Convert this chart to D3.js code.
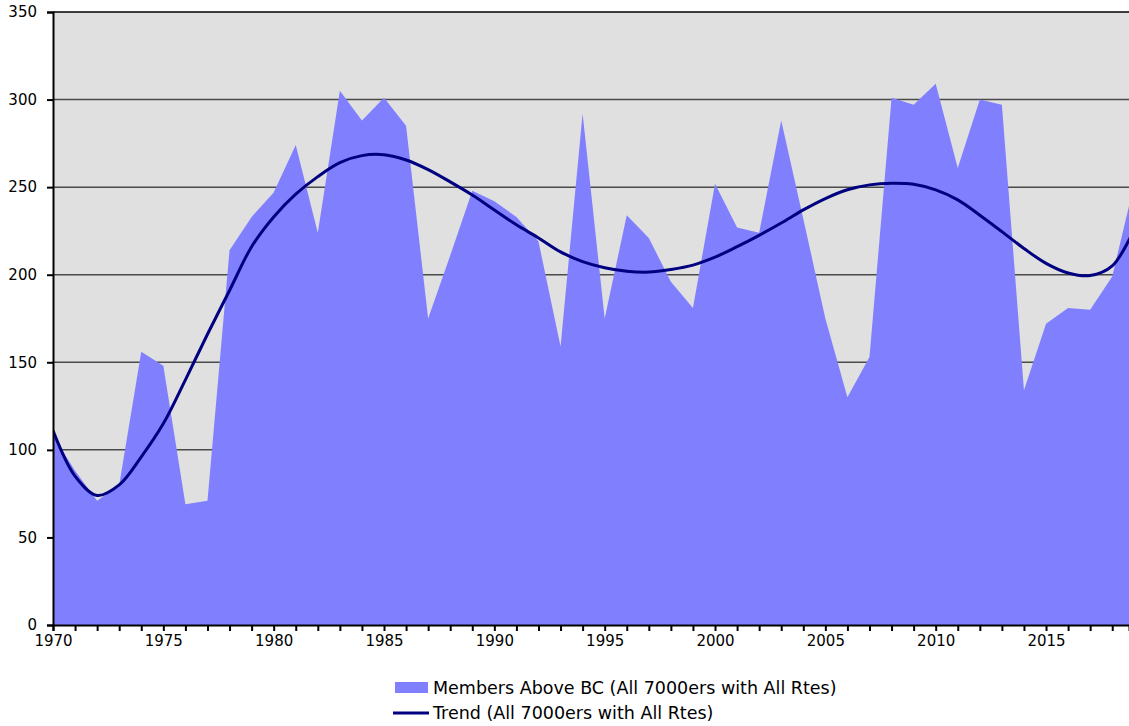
<!DOCTYPE html>
<html>
<head>
<meta charset="utf-8">
<script src="https://cdn.jsdelivr.net/npm/d3@7"></script>
<style>
  html, body { margin: 0; padding: 0; background: #ffffff; }
  svg { display: block; font-family: "DejaVu Sans", Verdana, sans-serif; }
</style>
</head>
<body>
<svg id="chart" width="1129" height="726"></svg>
<script>
// ---- data ----
const years = [1970,1971,1972,1973,1974,1975,1976,1977,1978,1979,
               1980,1981,1982,1983,1984,1985,1986,1987,1988,1989,
               1990,1991,1992,1993,1994,1995,1996,1997,1998,1999,
               2000,2001,2002,2003,2004,2005,2006,2007,2008,2009,
               2010,2011,2012,2013,2014,2015,2016,2017,2018,2019];
const members = [108,88,71,80,156,148,69,71,214,233,
                 247,274,224,305,288,301,285,175,211,248,
                 242,233,219,159,292,175,234,221,196,181,
                 252,227,224,288,232,175,130,153,301,297,
                 309,261,300,297,134,172,181,180,199,252];
const trend = [111,85,74,80,96,115,140,166,191,216,
               233,246,256,264,268,268.5,265.5,260,253,245.5,
               237,228.5,221,213,207.5,204,202,201.5,203,205.5,
               210,216,222.5,229.5,237,243.5,248.5,251.3,252.2,251.6,
               248.4,242.7,234,224.6,215,206.5,201,199.5,205,226];
const yTicks = [0,50,100,150,200,250,300,350];
const xLabelYears = [1970,1975,1980,1985,1990,1995,2000,2005,2010,2015];
const seriesNames = ["Members Above BC (All 7000ers with All Rtes)", "Trend (All 7000ers with All Rtes)"];

// ---- layout ----
const svg = d3.select("#chart");
const pL = 53, pR = 1129, pT = 12, pB = 625;

const x = d3.scaleLinear().domain([1970, 2018.76]).range([pL, pR]);
const y = d3.scaleLinear().domain([0, 350]).range([pB, pT]);

svg.append("defs").append("clipPath").attr("id", "plotclip")
  .append("rect").attr("x", pL).attr("y", pT).attr("width", pR - pL).attr("height", pB - pT);

// plot background
svg.append("rect").attr("x", pL).attr("y", pT).attr("width", pR - pL).attr("height", pB - pT)
  .attr("fill", "#e0e0e0");

// gridlines
svg.append("g").selectAll("line").data(yTicks.filter(v => v > 0 && v < 350)).join("line")
  .attr("x1", pL).attr("x2", pR)
  .attr("y1", d => y(d)).attr("y2", d => y(d))
  .attr("stroke", "#4a4a4a").attr("stroke-width", 1.5);

const plot = svg.append("g").attr("clip-path", "url(#plotclip)");

// area
const area = d3.area().x((d, i) => x(years[i])).y0(y(0)).y1(d => y(d));
plot.append("path").datum(members).attr("d", area).attr("fill", "#8080ff");

// trend line
const line = d3.line().x((d, i) => x(years[i])).y(d => y(d)).curve(d3.curveCatmullRom.alpha(0.5));
plot.append("path").datum(trend).attr("d", line)
  .attr("fill", "none").attr("stroke", "#000080").attr("stroke-width", 3);

// top border
svg.append("line").attr("x1", pL).attr("x2", pR).attr("y1", pT).attr("y2", pT)
  .attr("stroke", "#000").attr("stroke-width", 1.5);

// y axis
const yAxis = d3.axisLeft(y).tickValues(yTicks).tickSize(6).tickPadding(10).tickFormat(d3.format("d"));
const gy = svg.append("g").attr("transform", `translate(${pL},0)`).call(yAxis);
gy.select(".domain").attr("stroke", "#000").attr("stroke-width", 2);
gy.selectAll(".tick line").attr("stroke", "#000").attr("stroke-width", 2);
gy.selectAll(".tick text").attr("font-size", 15).attr("fill", "#000")
  .attr("font-family", "'DejaVu Sans', Verdana, sans-serif");

// x axis
const xAxis = d3.axisBottom(x).tickValues(years.filter(v => v <= 2018)).tickSize(6).tickPadding(4)
  .tickFormat(d => xLabelYears.includes(d) ? String(d) : "");
const gx = svg.append("g").attr("transform", `translate(0,${pB})`).call(xAxis);
gx.select(".domain").attr("stroke", "#000").attr("stroke-width", 2);
gx.selectAll(".tick line").attr("stroke", "#000").attr("stroke-width", 2);
gx.selectAll(".tick text").attr("font-size", 15).attr("fill", "#000")
  .attr("font-family", "'DejaVu Sans', Verdana, sans-serif");

// legend
const lg = svg.append("g");
lg.append("rect").attr("x", 395).attr("y", 682).attr("width", 33).attr("height", 11).attr("fill", "#8080ff");
lg.append("text").attr("x", 433).attr("y", 694).attr("font-size", 17.5).attr("fill", "#000").text(seriesNames[0]);
lg.append("line").attr("x1", 393).attr("x2", 429).attr("y1", 713).attr("y2", 713)
  .attr("stroke", "#000080").attr("stroke-width", 3);
lg.append("text").attr("x", 433).attr("y", 719).attr("font-size", 17.5).attr("fill", "#000").text(seriesNames[1]);
</script>
</body>
</html>
